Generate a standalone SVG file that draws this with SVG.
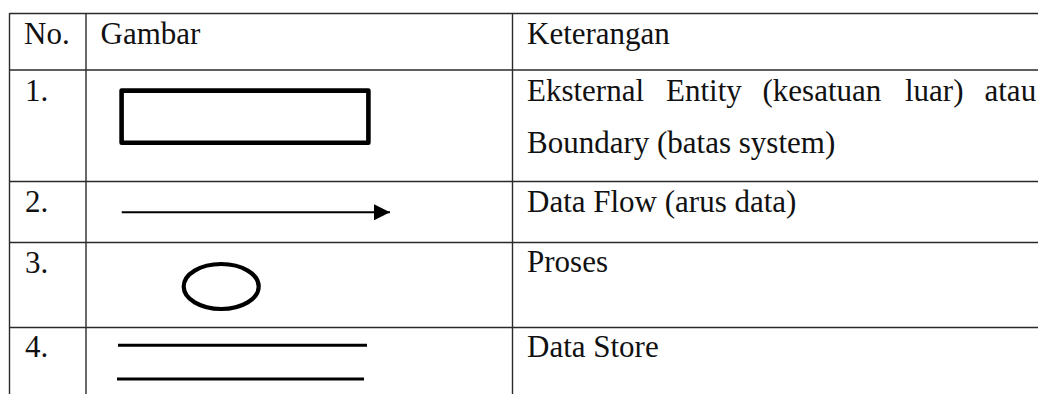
<svg xmlns="http://www.w3.org/2000/svg" width="1038" height="394" viewBox="0 0 1038 394">
<style>
.grid{stroke:#2a2a2a;stroke-width:1.4;fill:none}
.t{font-family:"Liberation Serif","Times New Roman",serif;font-size:31px;fill:#111}
.sym{stroke:#000;fill:none}
</style>
<defs>
<marker id="ah" markerUnits="userSpaceOnUse" markerWidth="16" markerHeight="16" refX="16" refY="8" orient="auto">
<path d="M0,0 L16,8 L0,16 Z" fill="#000"/>
</marker>
</defs>
<rect width="1038" height="394" fill="#fff"/>
<g id="table">
<line class="grid" x1="9.5" y1="13.5" x2="1038" y2="13.5"/>
<line class="grid" x1="9.5" y1="70" x2="1038" y2="70"/>
<line class="grid" x1="9.5" y1="181.5" x2="1038" y2="181.5"/>
<line class="grid" x1="9.5" y1="242.5" x2="1038" y2="242.5"/>
<line class="grid" x1="9.5" y1="327.5" x2="1038" y2="327.5"/>
<line class="grid" x1="9.5" y1="13" x2="9.5" y2="394"/>
<line class="grid" x1="86" y1="13" x2="86" y2="394"/>
<line class="grid" x1="512.5" y1="13" x2="512.5" y2="394"/>
</g>
<g id="header">
<text class="t" x="24" y="44">No.</text>
<text class="t" x="100.5" y="44">Gambar</text>
<text class="t" x="527" y="44">Keterangan</text>
</g>
<g id="row1">
<text class="t" x="25" y="100.5">1.</text>
<rect class="sym" x="121.6" y="90.6" width="246.8" height="52.1" stroke-width="4.6" stroke-linejoin="round"/>
<text class="t" y="100.5"><tspan x="527">Eksternal</tspan><tspan x="666">Entity</tspan><tspan x="762.5">(kesatuan</tspan><tspan x="905">luar)</tspan><tspan x="984.5">atau</tspan></text>
<text class="t" x="527" y="153">Boundary (batas system)</text>
</g>
<g id="row2">
<text class="t" x="25" y="212">2.</text>
<text class="t" x="527" y="212">Data Flow (arus data)</text>
</g>
<g id="connectors">
<line class="sym" x1="121.7" y1="212.3" x2="390" y2="212.3" stroke-width="2" marker-end="url(#ah)"/>
</g>
<g id="row3">
<text class="t" x="25" y="272.5">3.</text>
<ellipse class="sym" cx="221.2" cy="286.5" rx="37.5" ry="22.5" stroke-width="4.2"/>
<text class="t" x="527" y="272">Proses</text>
</g>
<g id="row4">
<text class="t" x="25" y="357">4.</text>
<line class="sym" x1="118" y1="345.3" x2="367" y2="345.3" stroke-width="3"/>
<line class="sym" x1="117" y1="379" x2="364" y2="379" stroke-width="3"/>
<text class="t" x="527" y="357">Data Store</text>
</g>
</svg>
